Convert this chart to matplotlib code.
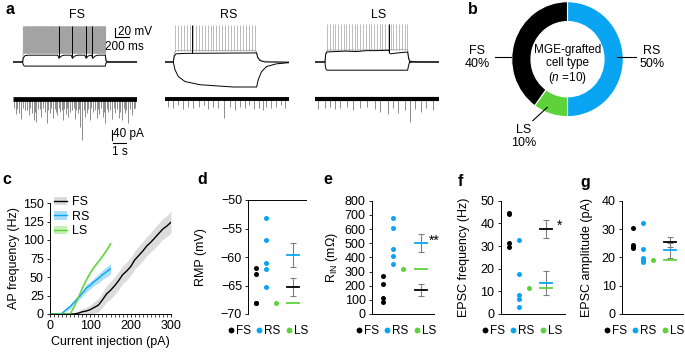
import numpy as np
import matplotlib.pyplot as plt
from matplotlib.lines import Line2D
from matplotlib.patches import Patch

plt.rcParams['font.family'] = ['Liberation Sans', 'DejaVu Sans']
plt.rcParams['mathtext.fontset'] = 'custom'
plt.rcParams['mathtext.rm'] = 'Liberation Sans'
plt.rcParams['mathtext.it'] = 'Liberation Sans:italic'
plt.rcParams['font.size'] = 9
plt.rcParams['axes.linewidth'] = 0.7

# ---------------- data ----------------
cell_types = ['FS', 'RS', 'LS']

# panel a: current-clamp traces (time in ms, membrane potential in mV)
pulse_on, pulse_off, trace_end = 140, 1340, 1800

fs_hyper_t = [0, 140, 148, 165, 1340, 1348, 1365, 1800]
fs_hyper_v = [-65, -65, -71, -74, -74, -68, -65, -65]
fs_sub_t = [0, 140, 150, 175, 220, 650, 668, 700, 740, 845, 863, 895, 935,
            1043, 1061, 1090, 1130, 1140, 1158, 1190, 1230, 1340, 1352, 1380, 1800]
fs_sub_v = [-65, -65, -56, -51, -50, -50, -57, -52, -50, -50, -57, -52, -50,
            -50, -57, -52, -50, -50, -57, -52, -50, -50, -62, -65, -65]
fs_sub_spikes = [662, 857, 1055, 1152]
fs_supra_t = [0, 140, 148, 1340, 1348, 1800]
fs_supra_v = [-65, -65, -45, -45, -65, -65]
fs_supra_n, fs_supra_first, fs_supra_last = 150, 150, 1335

rs_hyper_t = [0, 120, 145, 193, 290, 508, 990, 1330, 1353, 1402, 1474, 1619, 1800]
rs_hyper_v = [-65, -65, -82, -97, -108, -115, -120, -120, -104, -86, -75, -69, -66.5]
rs_sub_t = [0, 120, 135, 160, 300, 1330, 1345, 1380, 1450, 1800]
rs_sub_v = [-65, -65, -52, -47, -46, -45, -55, -62, -65, -65.5]
rs_sub_spikes = [386]
rs_supra_t = [0, 120, 135, 160, 1320, 1335, 1360, 1420, 1800]
rs_supra_v = [-65, -65, -46, -40, -40, -48, -58, -63, -65]
rs_supra_n, rs_supra_first, rs_supra_last = 28, 150, 1300

ls_hyper_t = [0, 145, 150, 160, 175, 1345, 1355, 1370, 1400, 1450, 1800]
ls_hyper_v = [-65, -65, -75, -81, -83, -83, -75, -66, -63.5, -65, -65]
ls_sub_t = [0, 145, 155, 175, 300, 450, 600, 750, 900, 1070, 1085, 1100, 1200,
            1345, 1360, 1380, 1420, 1800]
ls_sub_v = [-65, -65, -48, -43, -42, -41, -42, -40, -40, -39, -46, -47, -45,
            -43, -58, -66, -65, -65]
ls_sub_spikes = [1078]
ls_supra_t = [0, 145, 155, 175, 1345, 1360, 1390, 1800]
ls_supra_v = [-65, -65, -45, -39, -38, -55, -64, -65]
ls_supra_n, ls_supra_first, ls_supra_last = 30, 175, 1340

spike_peak = {'FS': 15, 'RS': 16, 'LS': 18}

# panel a: spontaneous EPSC traces (event time in s, amplitude in pA)
epsc_len = 9.2
fs_ev_t = [0.2, 0.45, 0.6, 0.9, 1.15, 1.4, 1.55, 1.7, 1.85, 2.1, 2.35, 2.5, 2.75, 2.95,
           3.1, 3.3, 3.5, 3.7, 3.9, 4.1, 4.4, 4.6, 4.8, 5.0, 5.15, 5.35, 5.5, 5.7,
           5.95, 6.2, 6.4, 6.65, 6.85, 7.05, 7.35, 7.6, 7.85, 8.1, 8.3, 8.55, 8.8, 8.95,
           0.1, 0.32, 0.75, 1.02, 1.28, 1.62, 1.98, 2.22, 2.62, 2.85, 3.2, 3.4, 3.6,
           3.8, 4.0, 4.25, 4.5, 4.7, 4.9, 5.25, 5.6, 5.82, 6.05, 6.3, 6.52, 6.75,
           6.95, 7.2, 7.47, 7.72, 7.97, 8.2, 8.42, 8.68, 9.05]
fs_ev_a = [60, 55, 80, 45, 65, 55, 85, 90, 40, 70, 50, 95, 55, 75,
           40, 65, 50, 85, 60, 70, 45, 80, 55, 110, 165, 70, 55, 85,
           50, 75, 60, 70, 95, 50, 80, 55, 75, 85, 55, 95, 65, 40,
           35, 40, 35, 45, 35, 50, 40, 35, 45, 35, 50, 35, 45,
           40, 35, 50, 35, 45, 40, 45, 40, 35, 45, 40, 35, 50,
           40, 45, 35, 40, 50, 35, 45, 40, 35]
rs_ev_t = [0.25, 0.62, 0.99, 1.31, 1.73, 2.10, 2.54, 2.89, 3.21, 3.58, 3.95, 4.37, 4.81,
           5.19, 5.56, 5.93, 6.25, 6.59, 6.99, 7.28, 7.53, 7.90, 8.27, 8.64, 8.89]
rs_ev_a = [30, 35, 25, 40, 30, 35, 30, 25, 40, 30, 35, 75, 30,
           45, 30, 35, 25, 40, 35, 45, 30, 35, 30, 25, 35]
ls_ev_t = [0.25, 0.74, 1.11, 1.48, 1.85, 2.35, 2.84, 3.33, 3.83, 4.44,
           4.81, 5.43, 5.80, 6.17, 6.67, 7.04, 7.41, 7.90, 8.27, 8.77]
ls_ev_a = [40, 35, 30, 40, 35, 30, 45, 35, 30, 40,
           50, 60, 35, 55, 45, 90, 40, 50, 35, 45]

# panel b: cell-type proportions (%)
pie_types = ['RS', 'LS', 'FS']
pie_pct = [50, 10, 40]

# panel c: f-I curves
current = [0, 10, 20, 30, 40, 50, 60, 70, 80, 90, 100, 110, 120, 130, 140, 150,
           160, 170, 180, 190, 200, 210, 220, 230, 240, 250, 260, 270, 280, 290, 300]
fs_freq = [0, 0, 0, 0, 0, 0, 0, 1, 3, 4, 6, 9, 12, 19, 27, 32,
           38, 45, 53, 58, 64, 73, 79, 85, 92, 97, 103, 109, 115, 119, 124]
fs_sem = [0, 0, 0, 0, 0, 1, 2, 3, 4, 5, 6, 8, 9, 10, 11, 12,
          12, 12, 12, 12, 12, 12, 13, 13, 13, 13, 14, 14, 14, 14, 15]
rs_current = current[:16]
rs_freq = [0, 0, 0, 1, 6, 10, 16, 22, 28, 35, 39, 44, 48, 53, 57, 61]
rs_sem = [0, 0, 0, 1, 2, 3, 3, 4, 4, 5, 5, 5, 6, 6, 7, 7]
ls_current = current[:16]
ls_freq = [0, 0, 0, 0, 0, 0, 10, 22, 35, 46, 56, 64, 71, 78, 86, 95]
ls_sem = [0, 0, 0, 0, 0, 0, 1, 1, 2, 2, 2, 2, 2, 2, 2, 2]

# panels d-g: single-cell values
rmp = {'FS': [-62.0, -63.0, -68.0, -68.0],
       'RS': [-53.1, -57.1, -61.1, -62.1, -65.2],
       'LS': [-68.0]}
rin = {'FS': [270, 212, 112, 86],
       'RS': [676, 609, 462, 410, 352],
       'LS': [320]}
epsc_freq = {'FS': [44.4, 44.0, 31.5, 29.6],
             'RS': [32.7, 17.8, 8.4, 6.5, 3.2],
             'LS': [11.6]}
epsc_amp = {'FS': [30.3, 24.4, 23.6, 23.2],
            'RS': [32.0, 22.9, 19.7, 18.5, 19.0],
            'LS': [19.0]}

# ---------------- style ----------------
C = {'FS': 'black', 'RS': '#0AA5F2', 'LS': '#5DD23B'}
BAND = {'FS': '#DCDCDC', 'RS': '#A9DDF8', 'LS': '#C8EFB8'}
C_ERR = '#7F7F7F'
C_GRAY = '#A3A3A3'

W, H = 685, 354
fig = plt.figure(figsize=(W / 100, H / 100), dpi=100)


def px_axes(x0, y0, x1, y1):
    return fig.add_axes([x0 / W, 1 - y1 / H, (x1 - x0) / W, (y1 - y0) / H])


def panel_label(x, y, s):
    fig.text(x / W, 1 - y / H, s, fontsize=11.5, fontweight='bold', ha='center', va='center')


# ---------------- panel a ----------------
traces = {
    'FS': (fs_hyper_t, fs_hyper_v, fs_sub_t, fs_sub_v, fs_sub_spikes,
           fs_supra_t, fs_supra_v, fs_supra_n, fs_supra_first, fs_supra_last),
    'RS': (rs_hyper_t, rs_hyper_v, rs_sub_t, rs_sub_v, rs_sub_spikes,
           rs_supra_t, rs_supra_v, rs_supra_n, rs_supra_first, rs_supra_last),
    'LS': (ls_hyper_t, ls_hyper_v, ls_sub_t, ls_sub_v, ls_sub_spikes,
           ls_supra_t, ls_supra_v, ls_supra_n, ls_supra_first, ls_supra_last),
}
events = {'FS': (fs_ev_t, fs_ev_a, 3.4), 'RS': (rs_ev_t, rs_ev_a, 2.8), 'LS': (ls_ev_t, ls_ev_a, 3.0)}
cell_x0 = {'FS': 13, 'RS': 165, 'LS': 315}

for name in cell_types:
    x0 = cell_x0[name]
    fig.text((x0 + 64) / W, 1 - 15 / H, name, fontsize=9, ha='center', va='center')

    ht, hv, st, sv, sspk, gt, gv, gn, gfirst, glast = traces[name]
    ax = px_axes(x0, 20, x0 + 124, 90)
    ax.set_xlim(0, trace_end)
    ax.set_ylim(-126.6, 27.4)
    ax.axis('off')
    gspk = np.linspace(gfirst, glast, gn)
    ax.plot(gt, gv, color=C_GRAY, lw=0.6)
    ax.vlines(gspk, np.interp(gspk, gt, gv), spike_peak[name], color=C_GRAY,
              lw=0.8 if name == 'FS' else 0.5)
    ax.plot(ht, hv, color='black', lw=0.7)
    ax.plot(st, sv, color='black', lw=0.7)
    ax.vlines(sspk, np.interp(sspk, st, sv), spike_peak[name], color='black', lw=0.7)
    if name == 'FS':
        ax.plot([1480, 1480], [-10, 10], color='black', lw=0.8, clip_on=False)
        ax.plot([1480, 1680], [-10, -10], color='black', lw=0.8, clip_on=False)
        ax.text(1530, 1, '20 mV', fontsize=8.5, ha='left', va='center')
        ax.text(1620, -32, '200 ms', fontsize=8.5, ha='center', va='center')

    et, ea, band_lw = events[name]
    ax = px_axes(x0, 90, x0 + 124, 160)
    ax.set_xlim(0, epsc_len)
    ax.set_ylim(-244, 36)
    ax.axis('off')
    ax.vlines(et, 0, -np.array(ea), color='#7A7A7A', lw=0.6)
    ax.plot([0, epsc_len], [0, 0], color='black', lw=band_lw, solid_capstyle='butt')
    if name == 'FS':
        ax.plot([7.31, 7.31], [-124, -164], color='black', lw=0.8, clip_on=False)
        ax.plot([7.42, 8.42], [-177, -177], color='black', lw=0.8, clip_on=False)
        ax.text(7.45, -142, '40 pA', fontsize=8.5, ha='left', va='center')
        ax.text(7.92, -210, '1 s', fontsize=8.5, ha='center', va='center')

panel_label(10, 9, 'a')

# ---------------- panel b ----------------
ax = px_axes(511.7, 1.7, 623.3, 116.7)
ax.pie(pie_pct, colors=[C[t] for t in pie_types], startangle=90, counterclock=False,
       radius=1, wedgeprops=dict(width=0.345, edgecolor='white', linewidth=0.8))
ax.set_aspect('auto')
ax.set_xlim(-1, 1)
ax.set_ylim(-1, 1)
ax.text(0, -0.10, 'MGE-grafted\ncell type\n($\\mathit{n}$ =10)', ha='center', va='center',
        fontsize=8.5, linespacing=1.1)
label_pos = {'RS': ((0.886, 1.226), (0.038, 0.038), (1.513, 0.03)),
             'LS': ((-0.362, -0.623), (-0.837, -1.070), (-0.788, -1.348)),
             'FS': ((-1.298, -1.012), (0.038, 0.038), (-1.62, 0.03))}
for t, p in zip(pie_types, pie_pct):
    lx, ly, (tx, ty) = label_pos[t]
    ax.plot(lx, ly, color='black', lw=0.8, clip_on=False)
    ax.text(tx, ty, f'{t}\n{p}%', ha='center', va='center', fontsize=9, linespacing=1.15)
panel_label(473, 9, 'b')

# ---------------- panel c ----------------
ax = px_axes(50, 203, 171, 314)
fi = {'FS': (current, fs_freq, fs_sem), 'RS': (rs_current, rs_freq, rs_sem),
      'LS': (ls_current, ls_freq, ls_sem)}
for name in ['FS', 'RS', 'LS']:
    x, y, s = (np.array(v, dtype=float) for v in fi[name])
    ax.fill_between(x, y - s, y + s, color=BAND[name], lw=0)
for name in ['FS', 'RS', 'LS']:
    x, y, s = fi[name]
    ax.plot(x, y, color=C[name], lw=1.0)
ax.set_xlim(0, 300)
ax.set_ylim(0, 150)
ax.set_xticks([0, 100, 200, 300])
ax.set_xticks(np.arange(0, 301, 10), minor=True)
ax.set_yticks([0, 25, 50, 75, 100, 125, 150])
ax.tick_params(length=2.5, width=0.6, pad=2, labelsize=9)
ax.tick_params(which='minor', length=2, width=0.5)
for sp in ['top', 'right']:
    ax.spines[sp].set_visible(False)
ax.set_xlabel('Current injection (pA)', fontsize=9, labelpad=3)
ax.set_ylabel('AP frequency (Hz)', fontsize=9)
ax.yaxis.set_label_coords(-0.25, 0.5)
handles = [(Patch(fc=BAND[n], ec='none'), Line2D([], [], color=C[n], lw=1.0)) for n in cell_types]
ax.legend(handles, cell_types, loc='upper left', bbox_to_anchor=(0.03, 1.06), frameon=False,
          fontsize=9, handlelength=1.1, handletextpad=0.4, labelspacing=0.2,
          borderpad=0, borderaxespad=0)
panel_label(7, 180, 'c')

# ---------------- panels d-g ----------------
MEAN_X = 3.75


def dot_panel(rect, xlim, ylim, yticks, data, ylabel, label_x, legend_cx, top_axis=False):
    ax = px_axes(*rect)
    for i, name in enumerate(cell_types):
        vals = data[name]
        ax.scatter(np.full(len(vals), i), vals, s=13, color=C[name], lw=0, zorder=3, clip_on=False)
    for name in cell_types:
        vals = np.array(data[name], dtype=float)
        if len(vals) > 1:
            sem = vals.std(ddof=1) / np.sqrt(len(vals))
            ax.errorbar(MEAN_X, vals.mean(), yerr=sem, color=C_ERR, lw=0.8,
                        capsize=2.2, capthick=0.8, zorder=2)
    for name in ['LS', 'RS', 'FS']:
        m = np.mean(data[name])
        ax.plot([MEAN_X - 0.6, MEAN_X + 0.6], [m, m], color=C[name], lw=1.3, zorder=4)
    ax.set_xlim(*xlim)
    ax.set_ylim(*ylim)
    ax.set_xticks([])
    ax.set_yticks(yticks)
    ax.tick_params(length=2.5, width=0.6, pad=2, labelsize=9)
    ax.spines['right'].set_visible(False)
    if top_axis:
        ax.spines['bottom'].set_visible(False)
    else:
        ax.spines['top'].set_visible(False)
    ax.set_ylabel(ylabel, fontsize=9)
    ax.yaxis.set_label_coords(label_x, 0.5)
    lh = [Line2D([], [], ls='none', marker='o', ms=4.2, mec='none', mfc=C[n]) for n in cell_types]
    fig.legend(lh, cell_types, loc='center', bbox_to_anchor=(legend_cx / W, 1 - 331 / H), ncol=3,
               frameon=False, fontsize=8.5, handlelength=0.5, handletextpad=0.15,
               columnspacing=0.5, borderpad=0, borderaxespad=0)
    return ax


dot_panel((248.3, 200, 306, 314), (-0.74, 5.03), (-70, -50), [-50, -55, -60, -65, -70],
          rmp, 'RMP (mV)', -0.72, 268, top_axis=True)
panel_label(202, 180, 'd')

ax = dot_panel((372, 200.7, 434, 314), (-1.1, 5.1), (0, 800), list(range(0, 801, 100)),
               rin, 'R$_{\\mathrm{IN}}$ (mΩ)', -0.52, 396)
ax.text(4.6, 520, '**', fontsize=10, ha='left', va='center')
panel_label(328, 180, 'e')

ax = dot_panel((500.5, 200.7, 565, 314), (-0.89, 5.65), (0, 50), [0, 10, 20, 30, 40, 50],
               epsc_freq, 'EPSC frequency (Hz)', -0.47, 522)
ax.text(4.84, 39, '*', fontsize=10, ha='left', va='center')
panel_label(460, 182, 'f')

dot_panel((622, 200.7, 683, 314), (-1.07, 5.03), (0, 40), [0, 10, 20, 30, 40],
          epsc_amp, 'EPSC amplitude (pA)', -0.48, 644)
panel_label(585, 182, 'g')

fig.savefig('out.png', dpi=100)
